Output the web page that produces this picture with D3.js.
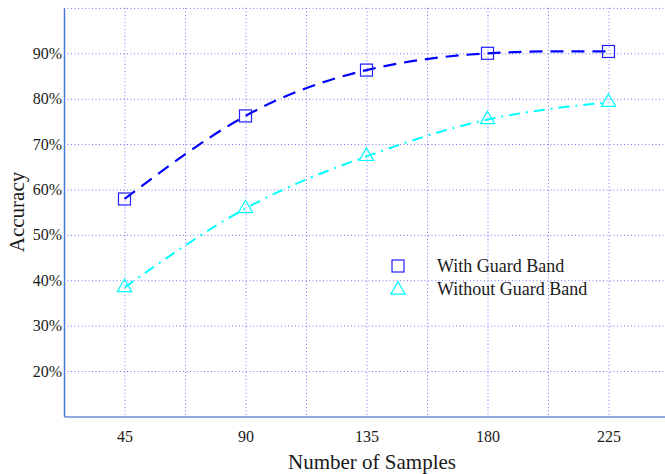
<!DOCTYPE html>
<html>
<head>
<meta charset="utf-8">
<script src="https://cdn.jsdelivr.net/npm/d3@7"></script>
<style>
  body { margin: 0; background: #fff; }
</style>
</head>
<body>
<svg id="chart"></svg>
<script>
// data
const samples = [45, 90, 135, 180, 225];
const withGuard = [57.9, 76.2, 86.3, 90.0, 90.4];
const withoutGuard = [38.4, 55.8, 67.3, 75.4, 79.2];
const yTicks = [20, 30, 40, 50, 60, 70, 80, 90];
const xGrid = [45, 67.5, 90, 112.5, 135, 157.5, 180, 202.5, 225];
const seriesNames = ["With Guard Band", "Without Guard Band"];

const serif = "'Liberation Serif', 'Times New Roman', 'DejaVu Serif', serif";

const svg = d3.select("#chart")
    .attr("width", 665)
    .attr("height", 474);

const x = d3.scaleLinear()
    .domain([22.5, 247.5])
    .range([64, 669]);

const y = d3.scaleLinear()
    .domain([10, 100])
    .range([416.4, 7.9]);

// grid
const grid = svg.append("g")
    .attr("stroke", "#4646ff")
    .attr("stroke-opacity", 0.75)
    .attr("stroke-width", 1)
    .attr("stroke-dasharray", "1,2.5");

grid.selectAll("line.h")
    .data(yTicks.concat([100]))
    .enter().append("line")
    .attr("x1", 64).attr("x2", 665)
    .attr("y1", d => y(d) + 0.5).attr("y2", d => y(d) + 0.5);

grid.selectAll("line.v")
    .data(xGrid)
    .enter().append("line")
    .attr("x1", d => x(d) + 0.5).attr("x2", d => x(d) + 0.5)
    .attr("y1", y(100)).attr("y2", y(10));

// axes
const xAxis = d3.axisBottom(x)
    .tickValues(samples)
    .tickSize(0)
    .tickPadding(14);

const yAxis = d3.axisLeft(y)
    .tickValues(yTicks)
    .tickSize(0)
    .tickPadding(2)
    .tickFormat(d => d + "%");

const xAxisGroup = svg.append("g")
    .attr("transform", `translate(0, ${y(10)})`)
    .call(xAxis);
xAxisGroup.select(".domain").attr("stroke", "#8eaadf").attr("stroke-width", 2);

const yAxisGroup = svg.append("g")
    .attr("transform", `translate(${x(22.5)}, 0)`)
    .call(yAxis);
yAxisGroup.select(".domain").attr("stroke", "#4a78d6").attr("stroke-width", 1.5);

[xAxisGroup, yAxisGroup].forEach(g => {
    g.attr("font-family", null);
    g.selectAll("text")
        .style("font-family", serif)
        .style("font-size", "16px")
        .attr("fill", "#1a1a1a");
});

svg.append("text")
    .attr("x", 372)
    .attr("y", 469)
    .attr("text-anchor", "middle")
    .style("font-family", serif)
    .style("font-size", "21px")
    .attr("fill", "#1a1a1a")
    .text("Number of Samples");

svg.append("text")
    .attr("transform", "translate(24, 212) rotate(-90)")
    .attr("text-anchor", "middle")
    .style("font-family", serif)
    .style("font-size", "21px")
    .attr("fill", "#1a1a1a")
    .text("Accuracy");

// lines
const line = d3.line()
    .x(d => x(d[0]))
    .y(d => y(d[1]))
    .curve(d3.curveNatural);

const withData = samples.map((s, i) => [s, withGuard[i]]);
const withoutData = samples.map((s, i) => [s, withoutGuard[i]]);

svg.append("path")
    .datum(withoutData)
    .attr("fill", "none")
    .attr("stroke", "#00ffff")
    .attr("stroke-width", 2)
    .attr("stroke-dasharray", "11,6,2,6")
    .attr("d", line);

svg.append("path")
    .datum(withData)
    .attr("fill", "none")
    .attr("stroke", "#0000ff")
    .attr("stroke-width", 2.2)
    .attr("stroke-dasharray", "13,8")
    .attr("d", line);

const tri = d3.symbol().type(d3.symbolTriangle).size(90);

svg.selectAll("rect.mk")
    .data(withData)
    .enter().append("rect")
    .attr("x", d => x(d[0]) - 6)
    .attr("y", d => y(d[1]) - 6)
    .attr("width", 12)
    .attr("height", 12)
    .attr("fill", "none")
    .attr("stroke", "#2020ff")
    .attr("stroke-width", 1.2);

svg.selectAll("path.tr")
    .data(withoutData)
    .enter().append("path")
    .attr("d", tri)
    .attr("transform", d => `translate(${x(d[0])}, ${y(d[1])})`)
    .attr("fill", "none")
    .attr("stroke", "#00ffff")
    .attr("stroke-width", 1.2);

// legend
const legend = svg.append("g");
legend.append("rect")
    .attr("x", 392).attr("y", 260)
    .attr("width", 12).attr("height", 12)
    .attr("fill", "none")
    .attr("stroke", "#2020ff")
    .attr("stroke-width", 1.2);
legend.append("path")
    .attr("d", tri)
    .attr("transform", "translate(398, 290)")
    .attr("fill", "none")
    .attr("stroke", "#00ffff")
    .attr("stroke-width", 1.2);
legend.selectAll("text")
    .data(seriesNames)
    .enter().append("text")
    .attr("x", 437)
    .attr("y", (d, i) => 272 + i * 23)
    .style("font-family", serif)
    .style("font-size", "18px")
    .attr("fill", "#1a1a1a")
    .text(d => d);
</script>
</body>
</html>
